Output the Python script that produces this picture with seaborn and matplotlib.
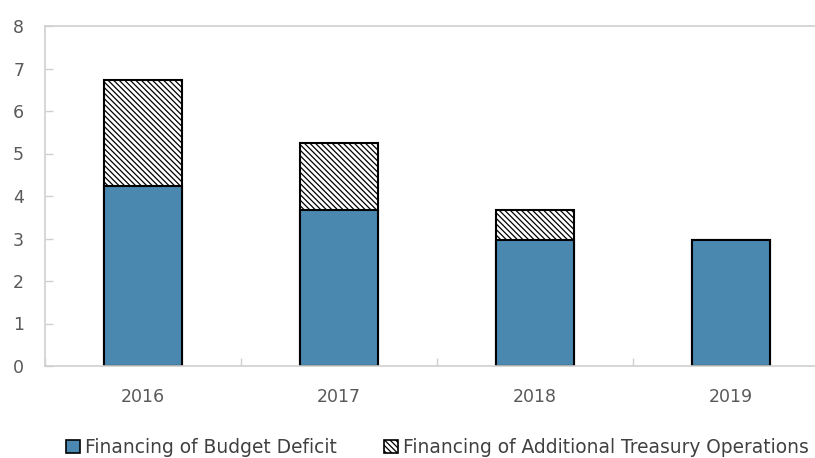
import matplotlib
matplotlib.use("Agg")
import matplotlib.pyplot as plt
import seaborn as sns
import pandas as pd
from matplotlib.patches import Patch

years = ["2016", "2017", "2018", "2019"]
budget_deficit = [4.23, 3.67, 2.96, 2.96]
treasury_ops = [2.49, 1.58, 0.71, 0.0]
y_ticks = [0, 1, 2, 3, 4, 5, 6, 7, 8]
series_names = ["Financing of Budget Deficit", "Financing of Additional Treasury Operations"]

blue = "#4a88b0"
gray_axis = "#d0d0d0"
label_color = "#595959"

sns.set_theme(style="white")
plt.rcParams['font.family'] = ['DejaVu Sans']
plt.rcParams['hatch.color'] = '#555555'
plt.rcParams['hatch.linewidth'] = 0.9

df = pd.DataFrame({
    "year": years,
    "bottom": budget_deficit,
    "total": [a + b for a, b in zip(budget_deficit, treasury_ops)],
})

fig = plt.figure(figsize=(8.15, 4.58), dpi=100)
ax = fig.add_axes([45 / 815, 1 - 366 / 458, 784 / 815, 340 / 458])

sns.barplot(data=df, x="year", y="total", color="white", width=0.4,
            edgecolor="black", linewidth=1.5, hatch="\\" * 6, ax=ax,
            saturation=1)
sns.barplot(data=df, x="year", y="bottom", color=blue, width=0.4,
            edgecolor="black", linewidth=1.5, ax=ax, saturation=1)

ax.set_xlim(-0.5, 3.5)
ax.set_ylim(0, 8)
ax.set_yticks(y_ticks)
ax.set_xlabel("")
ax.set_ylabel("")

for side in ["left", "bottom", "top"]:
    ax.spines[side].set_visible(True)
    ax.spines[side].set_color(gray_axis)
    ax.spines[side].set_linewidth(1.2)
ax.spines["right"].set_visible(False)

ax.tick_params(axis="y", direction="in", length=6, width=1, color=gray_axis,
               labelcolor=label_color, labelsize=12.5, pad=15, left=True)
ax.tick_params(axis="x", which="major", length=0, labelcolor=label_color,
               labelsize=12.5, pad=16)
ax.set_xticks([-0.5, 0.5, 1.5, 2.5, 3.5], minor=True)
ax.tick_params(axis="x", which="minor", direction="in", length=6, width=1,
               color=gray_axis, bottom=True)

handles = [
    Patch(facecolor=blue, edgecolor="black", linewidth=1.2, label=series_names[0]),
    Patch(facecolor="white", edgecolor="black", linewidth=1.2, hatch="\\" * 6, label=series_names[1]),
]
leg = fig.legend(handles=handles, loc="center", bbox_to_anchor=(0.5365, 0.023),
                 ncol=2, frameon=False, fontsize=13.4, handlelength=0.75,
                 handleheight=0.75, handletextpad=0.3, columnspacing=2.5,
                 labelcolor="#404040")

fig.savefig("out.png", dpi=100)
